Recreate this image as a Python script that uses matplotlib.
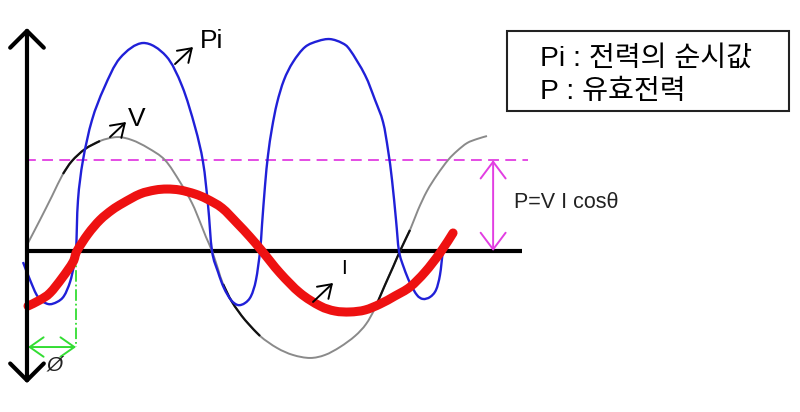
import matplotlib
matplotlib.use("Agg")
import matplotlib.pyplot as plt
from matplotlib.patches import Rectangle, PathPatch
from matplotlib.path import Path

# ---- data (x: phase in degrees, y: relative amplitude) ----
v_deg = [0, 11.7, 23.5, 34.2, 43.0, 55.8, 70.4, 87.1, 101.7, 117.4, 134.0, 148.7, 160.4,
         168.3, 174.1, 180.0, 185.9, 190.8, 199.6, 212.3, 227.0, 243.6, 259.2, 275.9, 290.5,
         305.2, 319.9, 330.7, 339.5, 349.2, 357.1, 363.9, 373.7, 381.5, 390.3, 400.1, 410.9,
         419.7, 429.5, 439.2, 449.0]
v_val = [0.070, 0.270, 0.478, 0.670, 0.783, 0.887, 0.957, 0.991, 0.965, 0.896, 0.791, 0.600,
         0.417, 0.252, 0.122, 0.0, -0.157, -0.287, -0.443, -0.600, -0.739, -0.843, -0.904,
         -0.930, -0.904, -0.835, -0.739, -0.635, -0.496, -0.296, -0.139, 0.0, 0.183, 0.357,
         0.522, 0.661, 0.791, 0.870, 0.939, 0.974, 1.0]

i_deg = [0, 11.7, 21.5, 33.3, 44.0, 47.9, 58.7, 70.4, 82.2, 92.9, 109.6, 124.2, 136.0, 148.7,
         163.4, 175.1, 189.8, 204.5, 217.2, 228.9, 246.5, 266.1, 285.7, 300.3, 315.0, 329.7,
         344.4, 359.0, 373.7, 388.4, 403.0, 415.8]
i_val = [-0.478, -0.426, -0.365, -0.235, -0.096, 0.0, 0.148, 0.270, 0.357, 0.417, 0.496,
         0.530, 0.539, 0.530, 0.496, 0.452, 0.374, 0.243, 0.122, 0.0, -0.191, -0.365, -0.478,
         -0.522, -0.530, -0.513, -0.461, -0.391, -0.313, -0.183, -0.017, 0.157]

p_deg = [-4.9, 2.0, 9.8, 19.6, 28.4, 35.2, 41.1, 45.0, 47.0, 48.9, 53.8, 62.6, 74.4, 90.0,
         112.5, 135.0, 150.7, 163.4, 171.2, 176.1, 180.0, 185.9, 191.7, 198.6, 205.4, 212.3,
         218.2, 223.0, 227.0, 228.9, 231.9, 234.8, 238.7, 243.6, 250.4, 259.2, 271.0, 283.7,
         295.4, 307.2, 315.0, 329.7, 339.5, 347.3, 352.2, 356.1, 360.0, 362.9, 367.8, 373.7,
         380.5, 386.4, 393.3, 399.1, 403.0, 406.0, 408.9]
p_val = [-0.096, -0.252, -0.400, -0.461, -0.443, -0.391, -0.270, -0.122, 0.0, 0.443, 0.791,
         1.139, 1.417, 1.678, 1.809, 1.696, 1.435, 1.078, 0.774, 0.400, 0.0, -0.183, -0.322,
         -0.426, -0.470, -0.452, -0.391, -0.252, 0.0, 0.226, 0.574, 0.835, 1.070, 1.287,
         1.487, 1.643, 1.774, 1.826, 1.843, 1.809, 1.748, 1.530, 1.313, 1.122, 0.878, 0.617,
         0.270, 0.0, -0.148, -0.278, -0.383, -0.417, -0.400, -0.339, -0.209, 0.0, 0.061]

# darker hand-drawn stretches of the V curve (degree ranges)
v_dark = [(34, 71), (190, 235), (339, 374)]

p_mean = 0.79          # P = VI cos(theta) level
phase = 47             # phase shift of I (degrees)

box_lines = ["Pi : 전력의 순시값", "P : 유효전력"]

# ---- figure ----
fig = plt.figure(figsize=(8, 4.12), dpi=100)
ax = fig.add_axes([0, 0, 1, 1])
ax.set_xlim(-27.4, 755.2)
ax.set_ylim(-1.40, 2.183)
ax.axis("off")

lat = ["Liberation Sans", "DejaVu Sans"]
kor = ["Liberation Sans", "Noto Sans CJK KR", "DejaVu Sans"]


def smooth_curve(xs, ys, **kw):
    """Draw a smooth Bezier curve passing through the given points."""
    pts = list(zip(xs, ys))
    n = len(pts)
    verts = [pts[0]]
    codes = [Path.MOVETO]
    for k in range(n - 1):
        p0 = pts[k - 1] if k > 0 else pts[k]
        p1 = pts[k]
        p2 = pts[k + 1]
        p3 = pts[k + 2] if k + 2 < n else pts[k + 1]
        c1 = (p1[0] + (p2[0] - p0[0]) / 6, p1[1] + (p2[1] - p0[1]) / 6)
        c2 = (p2[0] - (p3[0] - p1[0]) / 6, p2[1] - (p3[1] - p1[1]) / 6)
        verts += [c1, c2, p2]
        codes += [Path.CURVE4] * 3
    patch = PathPatch(Path(verts, codes), fill=False, **kw)
    ax.add_patch(patch)
    return patch


# axes
ax.plot([-3, 483], [0, 0], color="black", lw=3.0, solid_capstyle="butt", zorder=2)
ax.annotate("", xy=(-1, 1.94), xytext=(-1, -1.15),
            arrowprops=dict(arrowstyle="<->,head_length=0.55,head_width=0.55",
                            lw=3.0, color="black", mutation_scale=22,
                            shrinkA=0, shrinkB=0), zorder=6)

# magenta mean-power line
ax.plot([-3, 489], [p_mean, p_mean], color="#e23ee2", lw=1.3, ls=(0, (6, 3.5)), zorder=2)
ax.annotate("", xy=(455, p_mean), xytext=(455, 0.0),
            arrowprops=dict(arrowstyle="<->,head_length=0.6,head_width=0.45",
                            lw=1.4, color="#e23ee2", mutation_scale=20,
                            shrinkA=0, shrinkB=0), zorder=3)
ax.text(475, 0.42, "P=V I cos\u03b8", fontsize=15.5, family=lat, color="#222222",
        va="center", ha="left")

# V curve
smooth_curve(v_deg, v_val, ec="#8a8a8a", lw=1.4, zorder=3)
for a, b in v_dark:
    xs = [d for d in v_deg if a <= d <= b]
    ys = [v for d, v in zip(v_deg, v_val) if a <= d <= b]
    smooth_curve(xs, ys, ec="#111111", lw=1.6, zorder=3)

# Pi curve
smooth_curve(p_deg, p_val, ec="#2020d8", lw=1.7, zorder=4)

# I curve
smooth_curve(i_deg, i_val, ec="#ee1111", lw=6.5, capstyle="round", zorder=5)

# phase marker
ax.plot([phase, phase], [0, -0.835], color="#33dd33", lw=1.3, ls="-.", zorder=3)
ax.annotate("", xy=(0, -0.835), xytext=(phase, -0.835),
            arrowprops=dict(arrowstyle="<->,head_length=0.5,head_width=0.35",
                            lw=1.4, color="#33dd33", mutation_scale=20,
                            shrinkA=0, shrinkB=0), zorder=3)
ax.text(26, -0.99, "\u00d8", fontsize=15, style="italic", family=lat,
        ha="center", va="center", color="#222222")


# labels with arrows
def label(txt, tail, head, tpos, fs):
    ax.annotate("", xy=head, xytext=tail,
                arrowprops=dict(arrowstyle="->,head_length=0.45,head_width=0.3",
                                lw=1.4, color="black", mutation_scale=20,
                                shrinkA=0, shrinkB=0), zorder=6)
    ax.text(tpos[0], tpos[1], txt, fontsize=fs, family=lat, ha="left", va="center")


label("Pi", (143.8, 1.626), (161.4, 1.774), (168, 1.83), 19)
label("V", (80.2, 0.991), (95.9, 1.122), (98, 1.15), 19)
label("I", (278.8, -0.443), (298.4, -0.278), (306, -0.15), 15)

# legend box
ax.add_patch(Rectangle((468.6, 1.217), 276.0, 0.696, fill=False, ec="#222222", lw=1.5, zorder=6))
ax.text(501, 1.67, box_lines[0], fontsize=20.3, family=kor, ha="left", va="center")
ax.text(501, 1.38, box_lines[1], fontsize=20.3, family=kor, ha="left", va="center")

fig.savefig("out.png", dpi=100, facecolor="white")
